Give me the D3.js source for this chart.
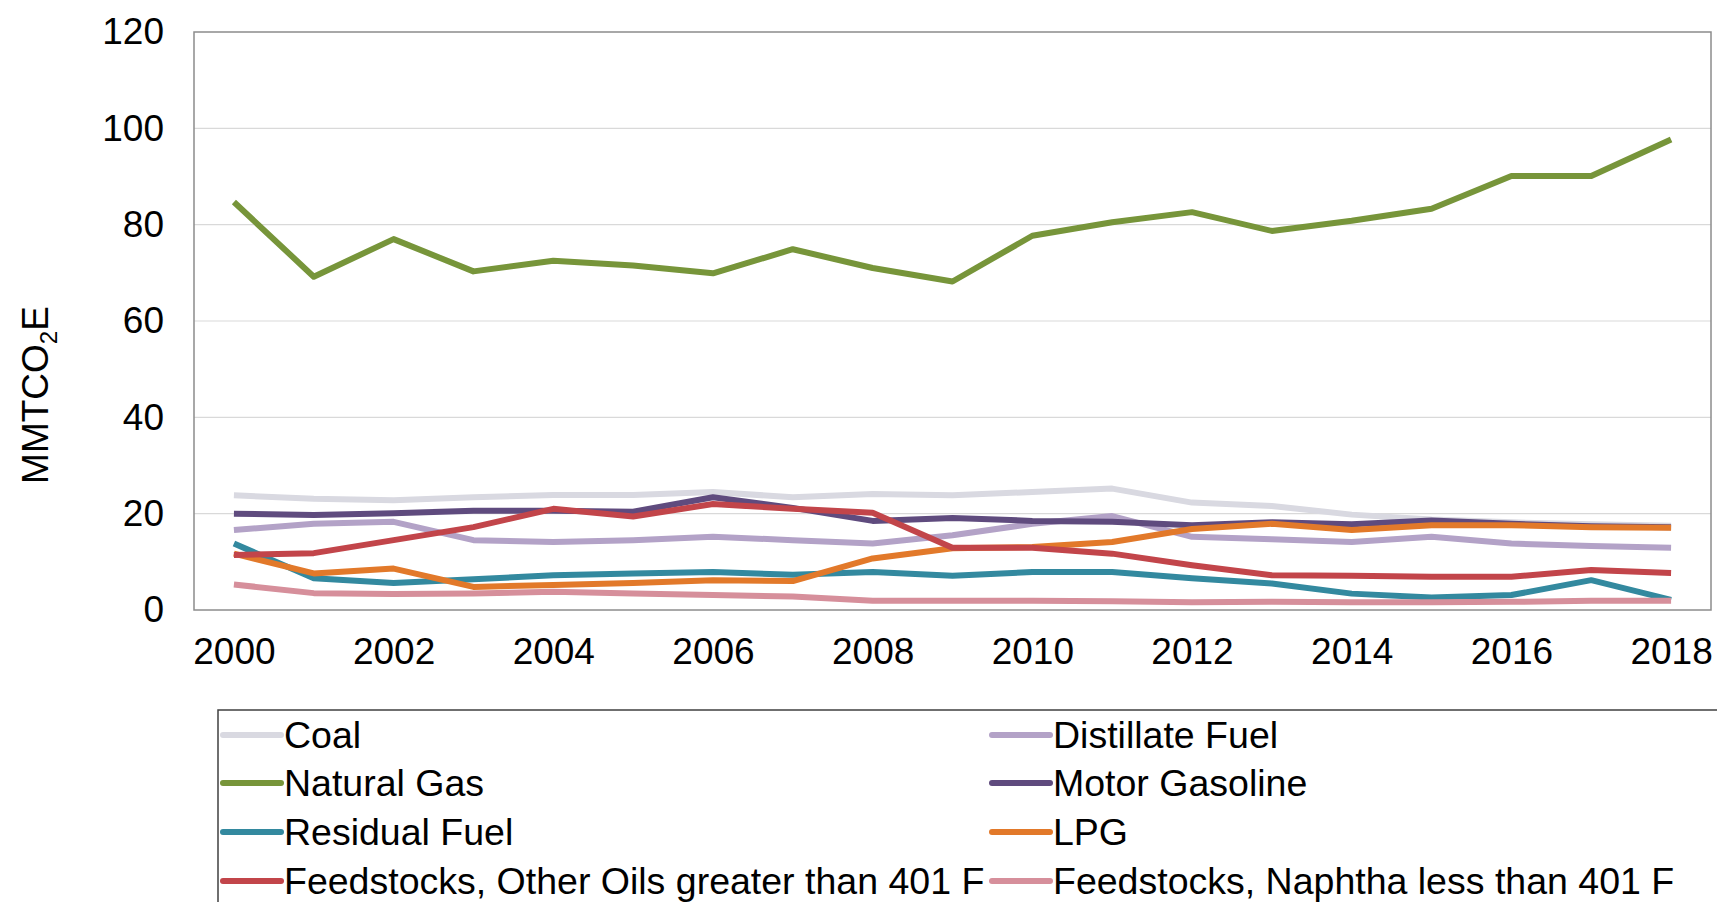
<!DOCTYPE html>
<html>
<head>
<meta charset="utf-8">
<script src="https://cdn.jsdelivr.net/npm/d3@7"></script>
<style>
  body { margin: 0; background: #fff; }
  text { font-family: "Liberation Sans", Arial, sans-serif; fill: #000; }
</style>
</head>
<body>
<div id="chart"></div>
<script>
// years on the x axis
const years = d3.range(2000, 2019);
const yTicks = [0, 20, 40, 60, 80, 100, 120];

// series values (MMTCO2E)
const coal          = [23.8, 23.1, 22.8, 23.4, 23.9, 23.9, 24.5, 23.4, 24.1, 23.8, 24.5, 25.2, 22.3, 21.6, 19.8, 18.8, 18.2, 17.8, 17.5];
const distillate    = [16.6, 17.9, 18.3, 14.5, 14.1, 14.5, 15.2, 14.5, 13.8, 15.5, 17.9, 19.5, 15.2, 14.7, 14.1, 15.2, 13.8, 13.3, 12.9];
const naturalGas    = [84.7, 69.2, 77.0, 70.3, 72.5, 71.5, 69.9, 74.9, 71.0, 68.2, 77.7, 80.5, 82.6, 78.7, 80.8, 83.3, 90.1, 90.1, 97.7];
const motorGasoline = [20.0, 19.7, 20.1, 20.6, 20.6, 20.4, 23.4, 21.2, 18.5, 19.1, 18.5, 18.3, 17.6, 18.2, 17.8, 18.6, 17.9, 17.4, 17.2];
const residual      = [13.8, 6.6, 5.6, 6.4, 7.2, 7.6, 7.9, 7.3, 7.9, 7.1, 7.9, 7.9, 6.6, 5.5, 3.4, 2.6, 3.1, 6.2, 2.1];
const lpg           = [11.7, 7.6, 8.6, 4.8, 5.2, 5.6, 6.2, 6.0, 10.7, 12.8, 13.1, 14.1, 16.8, 17.9, 16.6, 17.6, 17.6, 17.2, 17.1];
const feedOther     = [11.4, 11.8, 14.5, 17.2, 21.0, 19.4, 22.0, 21.0, 20.2, 12.9, 12.9, 11.7, 9.3, 7.2, 7.1, 6.9, 6.9, 8.3, 7.7];
const feedNaphtha   = [5.3, 3.5, 3.3, 3.4, 3.8, 3.4, 3.1, 2.8, 1.9, 1.9, 1.9, 1.8, 1.6, 1.7, 1.6, 1.6, 1.7, 1.9, 1.9];

// drawing order = legend order (row by row)
const series = [
  { name: "Coal", values: coal, color: "#d9d9e1" },
  { name: "Distillate Fuel", values: distillate, color: "#b3a2c7" },
  { name: "Natural Gas", values: naturalGas, color: "#77953a" },
  { name: "Motor Gasoline", values: motorGasoline, color: "#5f4b7e" },
  { name: "Residual Fuel", values: residual, color: "#33899f" },
  { name: "LPG", values: lpg, color: "#e2792a" },
  { name: "Feedstocks, Other Oils greater than 401 F", values: feedOther, color: "#c2454a" },
  { name: "Feedstocks, Naphtha less than 401 F", values: feedNaphtha, color: "#d68f9b" }
];

const width = 1717, height = 902;
const plot = { left: 194, right: 1711, top: 32, bottom: 610 };

const svg = d3.select("#chart").append("svg")
  .attr("width", width)
  .attr("height", height);

svg.append("rect").attr("width", width).attr("height", height).attr("fill", "#fff");

const x = d3.scalePoint()
  .domain(years)
  .range([plot.left, plot.right])
  .padding(0.5);

const y = d3.scaleLinear()
  .domain([0, 120])
  .range([plot.bottom, plot.top]);

// gridlines
svg.append("g")
  .selectAll("line")
  .data(yTicks.filter(d => d > 0 && d < 120))
  .enter()
  .append("line")
  .attr("x1", plot.left)
  .attr("x2", plot.right)
  .attr("y1", d => y(d))
  .attr("y2", d => y(d))
  .attr("stroke", "#d9d9d9")
  .attr("stroke-width", 1.2);

// plot frame
svg.append("rect")
  .attr("x", plot.left)
  .attr("y", plot.top)
  .attr("width", plot.right - plot.left)
  .attr("height", plot.bottom - plot.top)
  .attr("fill", "none")
  .attr("stroke", "#8c8c8c")
  .attr("stroke-width", 1.5);

// y axis labels
const yAxis = svg.append("g")
  .attr("transform", `translate(${plot.left},0)`)
  .call(d3.axisLeft(y).tickValues(yTicks).tickSize(0).tickPadding(30));
yAxis.select(".domain").remove();
yAxis.selectAll("text")
  .style("font-family", "'Liberation Sans', Arial, sans-serif")
  .style("font-size", "37px")
  .attr("fill", "#000");

// x axis labels
const xAxis = svg.append("g")
  .attr("transform", `translate(0,${plot.bottom})`)
  .call(d3.axisBottom(x).tickValues(d3.range(2000, 2019, 2)).tickSize(0).tickPadding(28));
xAxis.select(".domain").remove();
xAxis.selectAll("text")
  .style("font-family", "'Liberation Sans', Arial, sans-serif")
  .style("font-size", "37px")
  .attr("fill", "#000");

// y axis title
const title = svg.append("text")
  .attr("transform", "translate(48,395) rotate(-90)")
  .attr("text-anchor", "middle")
  .style("font-size", "37px");
title.append("tspan").text("MMTCO");
title.append("tspan").text("2").style("font-size", "24px").attr("dy", 9);
title.append("tspan").text("E").attr("dy", -9);

// lines
const line = d3.line()
  .x((d, i) => x(years[i]))
  .y(d => y(d));

svg.append("g")
  .selectAll("path")
  .data(series)
  .enter()
  .append("path")
  .attr("d", d => line(d.values))
  .attr("fill", "none")
  .attr("stroke", d => d.color)
  .attr("stroke-width", 6)
  .attr("stroke-linejoin", "round");

// legend box
svg.append("rect")
  .attr("x", 218)
  .attr("y", 710)
  .attr("width", 1600)
  .attr("height", 260)
  .attr("fill", "#fff")
  .attr("stroke", "#404040")
  .attr("stroke-width", 1.5);

const legendCols = [223, 992];
const legendRows = [735, 783, 832, 881];

const legend = svg.append("g");
series.forEach((s, i) => {
  const lx = legendCols[i % 2];
  const ly = legendRows[Math.floor(i / 2)];
  const row = legend.append("g").attr("transform", `translate(${lx},${ly})`);
  row.append("line")
    .attr("x1", 0)
    .attr("x2", 58)
    .attr("y1", 0)
    .attr("y2", 0)
    .attr("stroke", s.color)
    .attr("stroke-width", 6)
    .attr("stroke-linecap", "round");
  row.append("text")
    .attr("x", 61)
    .attr("y", 13)
    .style("font-size", "37.5px")
    .text(s.name);
});
</script>
</body>
</html>
